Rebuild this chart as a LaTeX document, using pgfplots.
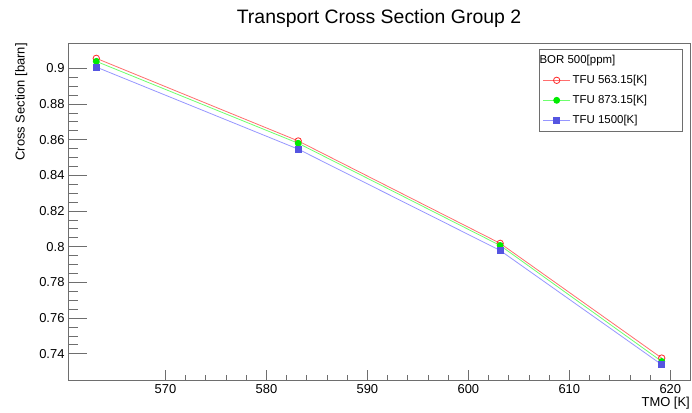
\documentclass[border=0pt]{standalone}
\usepackage{fontspec}
\setmainfont{Liberation Sans}
\usepackage{pgfplots}
\pgfplotsset{compat=1.18}
\definecolor{framegray}{RGB}{110,110,110}
\definecolor{lred}{RGB}{255,110,110}
\definecolor{mred}{RGB}{255,40,40}
\definecolor{lgreen}{RGB}{110,255,110}
\definecolor{mgreen}{RGB}{0,235,0}
\definecolor{lblue}{RGB}{150,150,255}
\definecolor{mblue}{RGB}{85,85,225}
\begin{document}
\begin{tikzpicture}
\useasboundingbox (0,0) rectangle (692bp,413bp);
\begin{axis}[
  at={(68bp,33bp)}, anchor=south west,
  scale only axis, width=622bp, height=337bp,
  xmin=560.35, xmax=621.95, ymin=0.7253, ymax=0.9142,
  xtick={570,580,590,600,610,620},
  ytick={0.74,0.76,0.78,0.8,0.82,0.84,0.86,0.88,0.9},
  minor x tick num=4, minor y tick num=3,
  tick pos=left, tick align=inside,
  axis line style={framegray, line width=0.8bp},
  tick style={framegray, line width=0.8bp},
  xtick style={/pgfplots/major tick length=10bp, /pgfplots/minor tick length=5bp},
  ytick style={/pgfplots/major tick length=19bp, /pgfplots/minor tick length=10bp},
  /pgf/number format/assume math mode=true,
  ticklabel style={font=\fontsize{13}{15}\selectfont},
  xticklabel style={yshift=-0.5bp},
  yticklabel style={/pgf/number format/fixed},
  title={Transport Cross Section Group 2},
  title style={at={(rel axis cs:0.5,1)}, anchor=base, yshift=14bp, font=\fontsize{19.5}{23}\selectfont},
  xlabel={TMO [K]},
  xlabel style={at={(rel axis cs:1,0)}, anchor=north east, inner sep=0pt, yshift=-17bp, font=\fontsize{13}{15}\selectfont},
  ylabel={Cross Section [barn]},
  ylabel style={at={(rel axis cs:0,1)}, anchor=north east, inner sep=0pt, yshift=53bp, font=\fontsize{13}{15}\selectfont},
  legend style={at={(rel axis cs:0.9887,0.982)}, anchor=north east, draw=framegray, line width=0.8bp, font=\fontsize{11.5}{13}\selectfont, row sep=6.2bp, inner ysep=4bp},
  legend cell align=left,
  legend image code/.code={\draw[mark repeat=2,mark phase=2,#1] plot coordinates {(-2bp,0bp)(11.5bp,0bp)(25bp,0bp)};},
]
\addlegendimage{empty legend}
\addlegendentry{\hspace*{-33bp}BOR 500[ppm]}
\addplot[lred, line width=0.8bp, mark=o, mark size=3.2bp, mark options={draw=mred, line width=0.8bp}]
  coordinates {(563.15,0.9056) (583.15,0.8593) (603.15,0.8019) (619.15,0.7376)};
\addlegendentry{\makebox[105bp][l]{TFU 563.15[K]}}
\addplot[lgreen, line width=0.8bp, mark=*, mark size=3bp, mark options={draw=mgreen, fill=mgreen}]
  coordinates {(563.15,0.9039) (583.15,0.8580) (603.15,0.8007) (619.15,0.7357)};
\addlegendentry{\makebox[105bp][l]{TFU 873.15[K]}}
\addplot[lblue, line width=0.8bp, mark=square*, mark size=3bp, mark options={draw=mblue, fill=mblue}]
  coordinates {(563.15,0.9007) (583.15,0.8547) (603.15,0.7979) (619.15,0.7339)};
\addlegendentry{\makebox[105bp][l]{TFU 1500[K]}}
\end{axis}
\end{tikzpicture}
\end{document}
